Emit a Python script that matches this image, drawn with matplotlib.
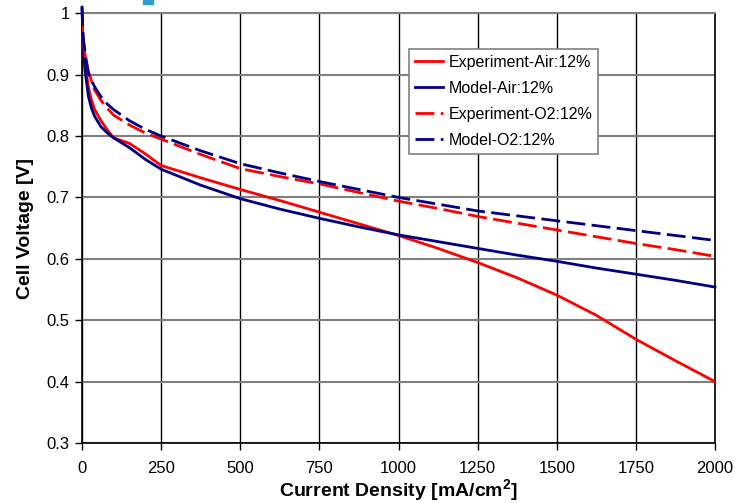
import matplotlib
matplotlib.use('Agg')
import matplotlib.pyplot as plt
from matplotlib.patches import Rectangle

plt.rcParams['font.family'] = ['Liberation Sans', 'DejaVu Sans']
plt.rcParams['mathtext.fontset'] = 'custom'
plt.rcParams['mathtext.rm'] = 'Liberation Sans'
plt.rcParams['mathtext.bf'] = 'Liberation Sans:bold'

# corriente [mA/cm2]
densidad = [0, 2, 5, 10, 20, 30, 40, 60, 80, 100, 150, 200, 250, 375, 500, 625, 750,
            875, 1000, 1125, 1250, 1375, 1500, 1625, 1750, 1875, 2000]

# voltajes [V]
exp_aire = [0.99, 0.96, 0.935, 0.915, 0.88, 0.858, 0.843, 0.825, 0.81, 0.797, 0.788, 0.771,
            0.752, 0.732, 0.713, 0.695, 0.676, 0.657, 0.638, 0.617, 0.594, 0.569, 0.541,
            0.508, 0.469, 0.434, 0.40]
mod_aire = [1.01, 0.97, 0.935, 0.905, 0.865, 0.845, 0.832, 0.815, 0.805, 0.797, 0.781, 0.762,
            0.746, 0.72, 0.698, 0.681, 0.666, 0.652, 0.639, 0.628, 0.617, 0.606, 0.596,
            0.585, 0.575, 0.565, 0.554]
exp_o2 = [1.0, 0.97, 0.95, 0.93, 0.905, 0.89, 0.875, 0.858, 0.845, 0.834, 0.818, 0.805,
          0.795, 0.77, 0.747, 0.734, 0.722, 0.708, 0.694, 0.682, 0.669, 0.658, 0.647,
          0.636, 0.625, 0.615, 0.604]
mod_o2 = [1.01, 0.98, 0.955, 0.935, 0.902, 0.89, 0.88, 0.864, 0.852, 0.843, 0.825, 0.811,
          0.80, 0.776, 0.755, 0.74, 0.726, 0.713, 0.70, 0.689, 0.678, 0.67, 0.662,
          0.654, 0.646, 0.638, 0.63]

etiquetas = ['Experiment-Air:12%', 'Model-Air:12%', 'Experiment-O2:12%', 'Model-O2:12%']

fig = plt.figure(figsize=(7.35, 5.03), dpi=100)
ax = fig.add_axes([0.1116, 0.1193, 0.8612, 0.8543])

rojo = '#FF0000'
azul = '#000080'
guion = (0, (6.8, 2.3))

ax.plot(densidad, exp_aire, color=rojo, lw=2, label=etiquetas[0], zorder=3)
ax.plot(densidad, mod_aire, color=azul, lw=2, label=etiquetas[1], zorder=3, clip_on=False)
ax.plot(densidad, exp_o2, color=rojo, lw=2, ls=guion, label=etiquetas[2], zorder=3)
ax.plot(densidad, mod_o2, color=azul, lw=2, ls=guion, label=etiquetas[3], zorder=3, clip_on=False)

ax.set_xlim(0, 2000)
ax.set_ylim(0.3, 1.0)
ax.set_xticks(range(0, 2001, 250))
ax.set_yticks([0.3, 0.4, 0.5, 0.6, 0.7, 0.8, 0.9, 1.0])
ax.set_yticklabels(['0.3', '0.4', '0.5', '0.6', '0.7', '0.8', '0.9', '1'])

ax.yaxis.grid(True, color='#808080', lw=1.5)
ax.xaxis.grid(True, color='black', lw=1)
ax.set_axisbelow(True)

ax.tick_params(axis='both', labelsize=12, direction='out', length=5, width=1, colors='black')
ax.tick_params(axis='x', pad=8)
ax.tick_params(axis='y', pad=4)
for lado in ['left', 'bottom', 'right']:
    ax.spines[lado].set_color('black')
    ax.spines[lado].set_linewidth(1.2)
ax.spines['top'].set_color('#808080')
ax.spines['top'].set_linewidth(1.5)

ax.set_xlabel('Current Density [mA/cm$^{\\mathbf{2}}$]', fontsize=14, fontweight='bold', labelpad=1)
ax.set_ylabel('Cell Voltage [V]', fontsize=14, fontweight='bold', labelpad=9)

ley = ax.legend(loc='upper left', bbox_to_anchor=(0.517, 0.917), borderaxespad=0,
                fontsize=11.5, frameon=True, fancybox=False, framealpha=1,
                edgecolor='#808080', handlelength=1.75, handletextpad=0.38,
                labelspacing=0.7, borderpad=0.35)
ley.get_frame().set_linewidth(1.2)

# pedazo del titulo cortado arriba
fig.patches.append(Rectangle((143 / 735, 1 - 4 / 503), 10 / 735, 4 / 503,
                             transform=fig.transFigure, color='#2a9fd0'))

fig.savefig('out.png', dpi=100)
